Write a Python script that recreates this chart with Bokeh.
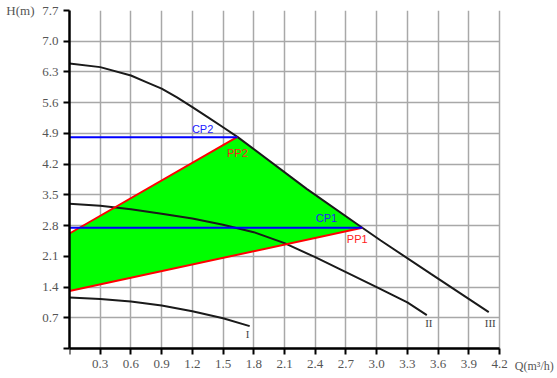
from bokeh.plotting import figure
from bokeh.models import Range1d, FixedTicker, LinearAxis, Grid, Label
from bokeh.embed import file_html
from bokeh.resources import INLINE
from bokeh.core.properties import value

# ---- data ----
x_ticks = [0, 0.3, 0.6, 0.9, 1.2, 1.5, 1.8, 2.1, 2.4, 2.7, 3.0, 3.3, 3.6, 3.9, 4.2]
x_tick_labels = ["", "0.3", "0.6", "0.9", "1.2", "1.5", "1.8", "2.1", "2.4", "2.7",
                 "3.0", "3.3", "3.6", "3.9", "4.2"]
y_ticks = [0, 0.7, 1.4, 2.1, 2.8, 3.5, 4.2, 4.9, 5.6, 6.3, 7.0, 7.7]
y_tick_labels = ["", "0.7", "1.4", "2.1", "2.8", "3.5", "4.2", "4.9", "5.6", "6.3", "7.0", "7.7"]

curve3_q = [0, 0.3, 0.6, 0.75, 0.9, 1.05, 1.2, 1.35, 1.5, 1.64, 2.32, 2.86, 3.04, 3.53, 4.095]
curve3_h = [6.49, 6.41, 6.22, 6.07, 5.92, 5.72, 5.50, 5.27, 5.04, 4.82, 3.63, 2.75, 2.46, 1.70, 0.83]

curve2_q = [0, 0.3, 0.6, 0.9, 1.2, 1.5, 1.8, 2.1, 2.4, 2.7, 3.0, 3.3, 3.49]
curve2_h = [3.30, 3.25, 3.17, 3.07, 2.96, 2.82, 2.65, 2.40, 2.08, 1.74, 1.40, 1.05, 0.76]

curve1_q = [0, 0.3, 0.6, 0.9, 1.2, 1.5, 1.76]
curve1_h = [1.16, 1.13, 1.07, 0.98, 0.85, 0.69, 0.51]

pp2_q = [0, 1.64]
pp2_h = [2.62, 4.82]
pp1_q = [0, 2.86]
pp1_h = [1.31, 2.75]
cp2_q = [0, 1.64]
cp2_h = [4.81, 4.81]
cp1_q = [0, 2.86]
cp1_h = [2.75, 2.75]

area_q = [0, 0, 1.64, 2.32, 2.86]
area_h = [1.31, 2.62, 4.82, 3.63, 2.75]

curve_names = ["I", "II", "III"]
curve_name_q = [1.74, 3.51, 4.11]
curve_name_h = [0.34, 0.57, 0.57]

point_names = ["CP2", "PP2", "CP1", "PP1"]
point_name_q = [1.30, 1.64, 2.51, 2.81]
point_name_h = [5.00, 4.45, 2.97, 2.49]
point_name_colors = ["#2020ff", "#ff2020", "#2020ff", "#ff2020"]

y_axis_title = "H(m)"
x_axis_title = "Q(m³/h)"

# ---- figure ----
X0, X1 = 0, 4.2
Y0, Y1 = 0, 7.7
# the frame reaches a little beyond the axes so the tick labels and Q title fit inside it
p = figure(width=557, height=378, output_backend="svg", toolbar_location=None,
           x_range=Range1d(X0, 4.7665), y_range=Range1d(-0.615, Y1),
           min_border_left=69, min_border_right=0, min_border_top=10, min_border_bottom=3)
p.outline_line_color = None
p.background_fill_color = "white"

serif = "Liberation Serif"
label_color = "#555555"
for ax, ticks, labels in ((p.xaxis[0], x_ticks, x_tick_labels), (p.yaxis[0], y_ticks, y_tick_labels)):
    ax.ticker = FixedTicker(ticks=ticks)
    ax.major_label_overrides = {t: l for t, l in zip(ticks, labels)}
    ax.axis_line_color = "black"
    ax.axis_line_width = 2.5
    ax.major_tick_line_color = "black"
    ax.major_tick_line_width = 2
    ax.major_tick_out = 6
    ax.major_tick_in = 0
    ax.minor_tick_line_color = None
    ax.major_label_text_font = serif
    ax.major_label_text_font_size = "13px"
    ax.major_label_text_color = label_color
p.xaxis.major_label_standoff = 5
p.xaxis.fixed_location = 0
p.xaxis.bounds = (X0, X1)
p.yaxis.major_label_standoff = 5
p.yaxis.bounds = (Y0, Y1)

# H title placed as the single tick label of an extra left axis
h_axis = LinearAxis(ticker=FixedTicker(ticks=[y_ticks[-1]]),
                    major_label_overrides={y_ticks[-1]: y_axis_title},
                    axis_line_color=None, major_tick_line_color=None, minor_tick_line_color=None,
                    major_tick_out=0, major_tick_in=0, major_label_standoff=5,
                    major_label_text_font=serif, major_label_text_font_size="13px",
                    major_label_text_color=label_color)
p.add_layout(h_axis, "left")

p.add_layout(Label(x=4.35, y=-0.39, text=x_axis_title, text_font=serif,
                   text_font_size="12px", text_color=label_color,
                   text_align="left", text_baseline="middle"))

for g in (p.xgrid[0], p.ygrid[0]):
    g.grid_line_color = "#a8a8a8"
    g.grid_line_width = 1.5
p.xgrid[0].bounds = (X0, X1)
p.ygrid[0].bounds = (Y0, Y1)
if "cross_bounds" in Grid.properties():
    p.xgrid[0].cross_bounds = (Y0, Y1)
    p.ygrid[0].cross_bounds = (X0, X1)

p.patch(area_q, area_h, fill_color="#00ff00", line_color=None)

for q, h in ((curve3_q, curve3_h), (curve2_q, curve2_h), (curve1_q, curve1_h)):
    p.line(q, h, line_color="#1a1a1a", line_width=2)

p.line(pp2_q, pp2_h, line_color="#ff0000", line_width=2)
p.line(pp1_q, pp1_h, line_color="#ff0000", line_width=2)
p.line(cp2_q, cp2_h, line_color="#0000ff", line_width=2)
p.line(cp1_q, cp1_h, line_color="#0000ff", line_width=2)

p.text(curve_name_q, curve_name_h, text=curve_names, text_font=value(serif),
       text_font_size="11px", text_color="#444444", text_align="center", text_baseline="middle")
p.text(point_name_q, point_name_h, text=point_names, text_font=value("Liberation Sans"),
       text_font_size="11px", text_color=point_name_colors, text_align="center", text_baseline="middle")

open("out.html", "w").write(file_html(p, INLINE))
